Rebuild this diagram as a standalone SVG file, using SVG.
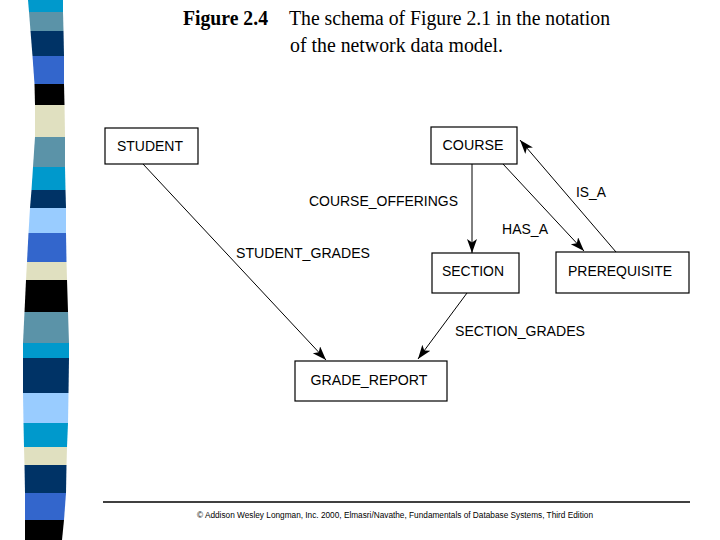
<svg xmlns="http://www.w3.org/2000/svg" width="720" height="540" viewBox="0 0 720 540">
<style>
.box{fill:#fff;stroke:#000;stroke-width:1.2}
.lbl{font-family:"Liberation Sans",Arial,sans-serif;font-size:15px;fill:#000}
.edge{stroke:#000;stroke-width:1;fill:none}
.ttl{font-family:"Liberation Serif","Times New Roman",serif;font-size:20px;fill:#000}
</style>
<defs>
<marker id="ah" markerUnits="userSpaceOnUse" markerWidth="16" markerHeight="12" refX="14" refY="5" orient="auto">
<path d="M0,0 L14,5 L0,10 L3.5,5 Z" fill="#000"/>
</marker>
</defs>
<rect width="720" height="540" fill="#fff"/>
<g id="stripe">
<polygon points="28,0 63,0 63,12 29,12" fill="#0099cc"/>
<polygon points="29,12 63,12 63.5,31 30.5,31" fill="#5b93a8"/>
<polygon points="30.5,31 63.5,31 64,56 32.5,56" fill="#003366"/>
<polygon points="32.5,56 64,56 64,84 34.5,84" fill="#3366cc"/>
<polygon points="34.5,84 64,84 64.5,105 35,105" fill="#000"/>
<polygon points="35,105 64.5,105 65,137 35,137" fill="#e0e0c0"/>
<polygon points="35,137 65,137 65,167 33,167" fill="#5b93a8"/>
<polygon points="33,167 65,167 65.5,190 31.5,190" fill="#0099cc"/>
<polygon points="31.5,190 65.5,190 66,208 30,208" fill="#003366"/>
<polygon points="30,208 66,208 66,233 28.5,233" fill="#99ccff"/>
<polygon points="28.5,233 66,233 66.5,262 27,262" fill="#3366cc"/>
<polygon points="27,262 66.5,262 67,280 26,280" fill="#e0e0c0"/>
<polygon points="26,280 67,280 68,312 24.5,312" fill="#000"/>
<polygon points="24.5,312 68,312 69,343 23,343" fill="#5b93a8"/>
<polygon points="23,343 69,343 69,358 23,358" fill="#0099cc"/>
<polygon points="23,358 69,358 68.5,393 23,393" fill="#003366"/>
<polygon points="23,393 68.5,393 68,423 23.5,423" fill="#99ccff"/>
<polygon points="23.5,423 68,423 67,447 24,447" fill="#0099cc"/>
<polygon points="24,447 67,447 66.5,465 24.5,465" fill="#e0e0c0"/>
<polygon points="24.5,465 66.5,465 66,493 25,493" fill="#003366"/>
<polygon points="25,493 66,493 64,520 25,520" fill="#3366cc"/>
<polygon points="25,520 64,520 62,540 25,540" fill="#000"/>
</g>
<g id="title">
<text class="ttl" x="183" y="25" font-weight="bold" textLength="85" lengthAdjust="spacingAndGlyphs">Figure 2.4</text>
<text class="ttl" x="289" y="25" textLength="321" lengthAdjust="spacingAndGlyphs">The schema of Figure 2.1 in the notation</text>
<text class="ttl" x="290" y="52" textLength="213" lengthAdjust="spacingAndGlyphs">of the network data model.</text>
</g>
<g id="connectors">
<line class="edge" x1="143" y1="164" x2="326" y2="360" marker-end="url(#ah)"/>
<line class="edge" x1="467" y1="293" x2="418" y2="359" marker-end="url(#ah)"/>
<line class="edge" x1="472" y1="164" x2="472" y2="253" stroke-width="2.2" marker-end="url(#ah)"/>
<line class="edge" x1="503" y1="164" x2="584" y2="251" marker-end="url(#ah)"/>
<line class="edge" x1="616" y1="252" x2="520" y2="140" marker-end="url(#ah)"/>
<text class="lbl" x="309" y="206" textLength="149" lengthAdjust="spacingAndGlyphs">COURSE_OFFERINGS</text>
<text class="lbl" x="502" y="234" textLength="46" lengthAdjust="spacingAndGlyphs">HAS_A</text>
<text class="lbl" x="576" y="197" textLength="30" lengthAdjust="spacingAndGlyphs">IS_A</text>
<text class="lbl" x="236" y="258" textLength="134" lengthAdjust="spacingAndGlyphs">STUDENT_GRADES</text>
<text class="lbl" x="455" y="336" textLength="130" lengthAdjust="spacingAndGlyphs">SECTION_GRADES</text>
</g>
<g id="node-student">
<rect class="box" x="105" y="128" width="93" height="36"/>
<text class="lbl" x="150" y="151" text-anchor="middle" textLength="66" lengthAdjust="spacingAndGlyphs">STUDENT</text>
</g>
<g id="node-course">
<rect class="box" x="431" y="127" width="86" height="37"/>
<text class="lbl" x="473" y="150" text-anchor="middle" textLength="61" lengthAdjust="spacingAndGlyphs">COURSE</text>
</g>
<g id="node-section">
<rect class="box" x="432" y="253" width="87" height="40"/>
<text class="lbl" x="473" y="276" text-anchor="middle" textLength="62" lengthAdjust="spacingAndGlyphs">SECTION</text>
</g>
<g id="node-prerequisite">
<rect class="box" x="556" y="252" width="133" height="41"/>
<text class="lbl" x="620" y="276" text-anchor="middle" textLength="104" lengthAdjust="spacingAndGlyphs">PREREQUISITE</text>
</g>
<g id="node-grade-report">
<rect class="box" x="295" y="361" width="152" height="40"/>
<text class="lbl" x="369" y="385" text-anchor="middle" textLength="117" lengthAdjust="spacingAndGlyphs">GRADE_REPORT</text>
</g>
<g id="footer">
<line x1="103" y1="502" x2="690" y2="502" stroke="#000" stroke-width="1.5"/>
<text x="197" y="518" font-family="'Liberation Sans',Arial,sans-serif" font-size="8.5" textLength="396" lengthAdjust="spacingAndGlyphs">© Addison Wesley Longman, Inc. 2000, Elmasri/Navathe, Fundamentals of Database Systems, Third Edition</text>
</g>
</svg>
